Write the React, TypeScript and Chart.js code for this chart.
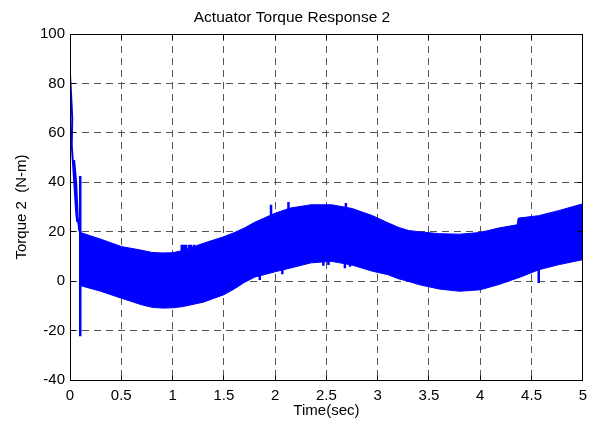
import { useEffect, useRef } from "react";
import { Chart, registerables } from "chart.js";

Chart.register(...registerables);

const FONT = "'Liberation Sans', Arial, Helvetica, sans-serif";
const BLUE = "#0000ff";

// Axis ticks
const xTicks = [0, 0.5, 1, 1.5, 2, 2.5, 3, 3.5, 4, 4.5, 5];
const yTicks = [-40, -20, 0, 20, 40, 60, 80, 100];

// Start-up transient of the actuator torque (N-m) over the first 0.1 s (drawn in time order of the trace)
const transientTime = [0, 0.01, 0.022, 0.017, 0.032, 0.06, 0.07, 0.055, 0.04, 0.06, 0.075, 0.09, 0.1];
const transientTorque = [83.7, 76, 66, 55, 46, 28, 24, 35, 49, 40, 26, 20.6, 19.7];

// Envelope of the fast chattering torque (upper / lower bound)
const bandTime = [
  0.1, 0.3, 0.5, 0.7, 0.8, 0.9, 1.0, 1.1, 1.3, 1.5, 1.6, 1.7, 1.8, 2.0, 2.15, 2.35,
  2.55, 2.75, 2.95, 3.1, 3.2, 3.3, 3.4, 3.6, 3.8, 4.0, 4.18, 4.36, 4.37, 4.57, 4.77, 5.0,
];
const bandUpper = [
  19.7, 17.0, 14.0, 12.5, 11.6, 11.4, 11.5, 12.4, 15.3, 18.0, 19.6, 21.5, 23.8, 27.5, 29.6, 30.9,
  30.9, 29.4, 26.5, 23.6, 21.8, 20.5, 20.0, 19.2, 19.0, 19.7, 21.5, 22.8, 25.5, 26.5, 28.6, 31.3,
];
const bandLower = [
  -1.8, -4.1, -6.9, -9.6, -10.6, -10.9, -10.8, -10.3, -8.5, -5.5, -3.2, -0.5, 1.6, 3.8, 5.3, 7.4,
  8.0, 6.5, 4.0, 2.6, 1.0, -0.1, -1.4, -3.2, -4.1, -3.5, -1.4, 1.2, 1.3, 4.6, 6.7, 8.7,
];

// Isolated torque spikes: time, lowest and highest value of each spike
const spikeTime = [0.1, 1.09, 1.11, 1.13, 1.16, 1.18, 1.21, 1.96, 2.13, 2.69, 1.85, 2.07, 2.47, 2.52, 2.68, 2.73, 4.57];
const spikeLow = [-22.3, 11, 11, 11, 11, 11, 11, 26, 28.5, 29, 0.5, 2.8, 6.2, 6.5, 5.2, 5.8, -0.8];
const spikeHigh = [42.5, 14.7, 14.7, 14.7, 14.7, 14.7, 14.7, 30.9, 32, 31.6, 3, 5, 9, 9, 8, 8, 5];

const align = (v: number) => Math.round(v - 0.5) + 0.5;

// Box around the axes with inward tick marks on all four sides
const axesBox = {
  id: "axesBox",
  afterDatasetsDraw(chart: any) {
    const { ctx, chartArea: a, scales } = chart;
    const l = align(a.left), r = align(a.right), t = align(a.top), b = align(a.bottom);
    const len = 5;
    ctx.save();
    ctx.strokeStyle = "#000";
    ctx.lineWidth = 1;
    ctx.setLineDash([]);
    ctx.beginPath();
    for (const v of xTicks) {
      const px = align(scales.x.getPixelForValue(v));
      ctx.moveTo(px, b);
      ctx.lineTo(px, b - len);
      ctx.moveTo(px, t);
      ctx.lineTo(px, t + len);
    }
    for (const v of yTicks) {
      const py = align(scales.y.getPixelForValue(v));
      ctx.moveTo(l, py);
      ctx.lineTo(l + len, py);
      ctx.moveTo(r, py);
      ctx.lineTo(r - len, py);
    }
    ctx.stroke();
    ctx.strokeRect(l, t, r - l, b - t);
    ctx.restore();
  },
};

export default function App() {
  const canvasRef = useRef<HTMLCanvasElement | null>(null);

  useEffect(() => {
    if (!canvasRef.current) return;

    const upper = bandTime.map((x, i) => ({ x, y: bandUpper[i] }));
    const lower = bandTime.map((x, i) => ({ x, y: bandLower[i] }));
    const transient = transientTime.map((x, i) => ({ x, y: transientTorque[i] }));
    const spikes: { x: number; y: number | null }[] = [];
    spikeTime.forEach((x, i) => {
      spikes.push({ x, y: spikeLow[i] }, { x, y: spikeHigh[i] }, { x, y: null });
    });

    const tickFont = { family: FONT, size: 15, weight: "normal" as const };

    const chart = new Chart(canvasRef.current, {
      type: "line",
      data: {
        datasets: [
          {
            data: upper,
            borderColor: BLUE,
            borderWidth: 1,
            pointRadius: 0,
            tension: 0,
            fill: false,
          },
          {
            data: lower,
            borderColor: BLUE,
            backgroundColor: BLUE,
            borderWidth: 1,
            pointRadius: 0,
            tension: 0,
            fill: "-1",
          },
          {
            data: transient,
            borderColor: BLUE,
            borderWidth: 2,
            pointRadius: 0,
            tension: 0,
            fill: false,
          },
          {
            data: spikes as any,
            borderColor: BLUE,
            borderWidth: 2.5,
            pointRadius: 0,
            tension: 0,
            spanGaps: false,
            fill: false,
          },
        ],
      },
      options: {
        animation: false,
        responsive: false,
        events: [],
        layout: { padding: { left: 0, right: 10, top: 0, bottom: 0 } },
        plugins: {
          legend: { display: false },
          tooltip: { enabled: false },
          title: {
            display: true,
            text: "Actuator Torque Response 2",
            color: "#000",
            font: { family: FONT, size: 15.5, weight: "normal" },
            padding: { top: 8, bottom: 7.4 },
          },
        },
        scales: {
          x: {
            type: "linear",
            min: 0,
            max: 5,
            afterBuildTicks: (s: any) => {
              s.ticks = xTicks.map((value) => ({ value }));
            },
            afterFit: (s: any) => {
              s.height = 43;
            },
            ticks: {
              color: "#000",
              font: tickFont,
              padding: 7,
              maxRotation: 0,
              autoSkip: false,
              callback: (v: any) => String(v),
            },
            grid: { color: "#555", lineWidth: 1, drawTicks: false },
            border: { display: false, dash: [7, 5] },
            title: {
              display: true,
              text: "Time(sec)",
              color: "#000",
              font: tickFont,
              padding: { top: 0, bottom: 3 },
            },
          },
          y: {
            type: "linear",
            min: -40,
            max: 100,
            afterBuildTicks: (s: any) => {
              s.ticks = yTicks.map((value) => ({ value }));
            },
            afterFit: (s: any) => {
              s.width = 70;
            },
            ticks: {
              color: "#000",
              font: tickFont,
              padding: 5,
              autoSkip: false,
              callback: (v: any) => String(v),
            },
            grid: { color: "#555", lineWidth: 1, drawTicks: false },
            border: { display: false, dash: [7, 5] },
            title: {
              display: true,
              text: "Torque 2  (N-m)",
              color: "#000",
              font: tickFont,
              padding: { top: 13, bottom: 0 },
            },
          },
        },
      },
      plugins: [axesBox],
    });

    return () => chart.destroy();
  }, []);

  return (
    <div style={{ position: "absolute", left: 0, top: 0, width: 594, height: 423, background: "#fff" }}>
      <canvas ref={canvasRef} width={594} height={423} style={{ display: "block" }} />
    </div>
  );
}
